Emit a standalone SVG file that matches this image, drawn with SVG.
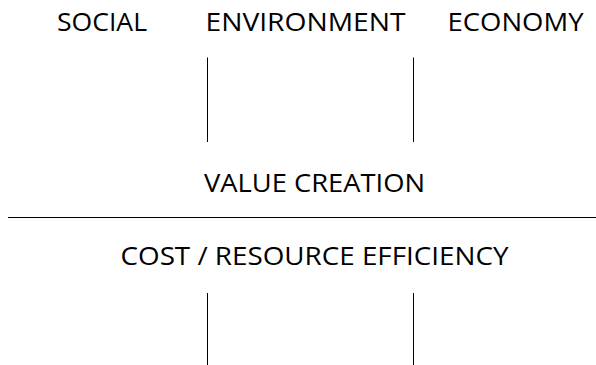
<svg xmlns="http://www.w3.org/2000/svg" width="596" height="365" viewBox="0 0 596 365">
<style>
text{font-family:"Open Sans","Liberation Sans",sans-serif;font-size:26px;fill:#000}
.ln{stroke:#000;stroke-width:1;fill:none}
</style>
<rect width="596" height="365" fill="#fff"/>
<g id="social"><text x="57" y="31" textLength="90" lengthAdjust="spacingAndGlyphs">SOCIAL</text></g>
<g id="environment"><text x="205.5" y="31" textLength="200" lengthAdjust="spacingAndGlyphs">ENVIRONMENT</text></g>
<g id="economy"><text x="447.5" y="31" textLength="136" lengthAdjust="spacingAndGlyphs">ECONOMY</text></g>
<g id="value-creation"><text x="204" y="192" textLength="221" lengthAdjust="spacingAndGlyphs">VALUE CREATION</text></g>
<g id="cost-efficiency"><text x="120.5" y="265" textLength="388" lengthAdjust="spacingAndGlyphs">COST / RESOURCE EFFICIENCY</text></g>
<g id="connectors">
<line class="ln" x1="207.5" y1="57.5" x2="207.5" y2="142"/>
<line class="ln" x1="413.5" y1="57.5" x2="413.5" y2="142"/>
<line class="ln" x1="8" y1="217.5" x2="596" y2="217.5"/>
<line class="ln" x1="207.5" y1="293" x2="207.5" y2="365"/>
<line class="ln" x1="413.5" y1="293" x2="413.5" y2="365"/>
</g>
</svg>
